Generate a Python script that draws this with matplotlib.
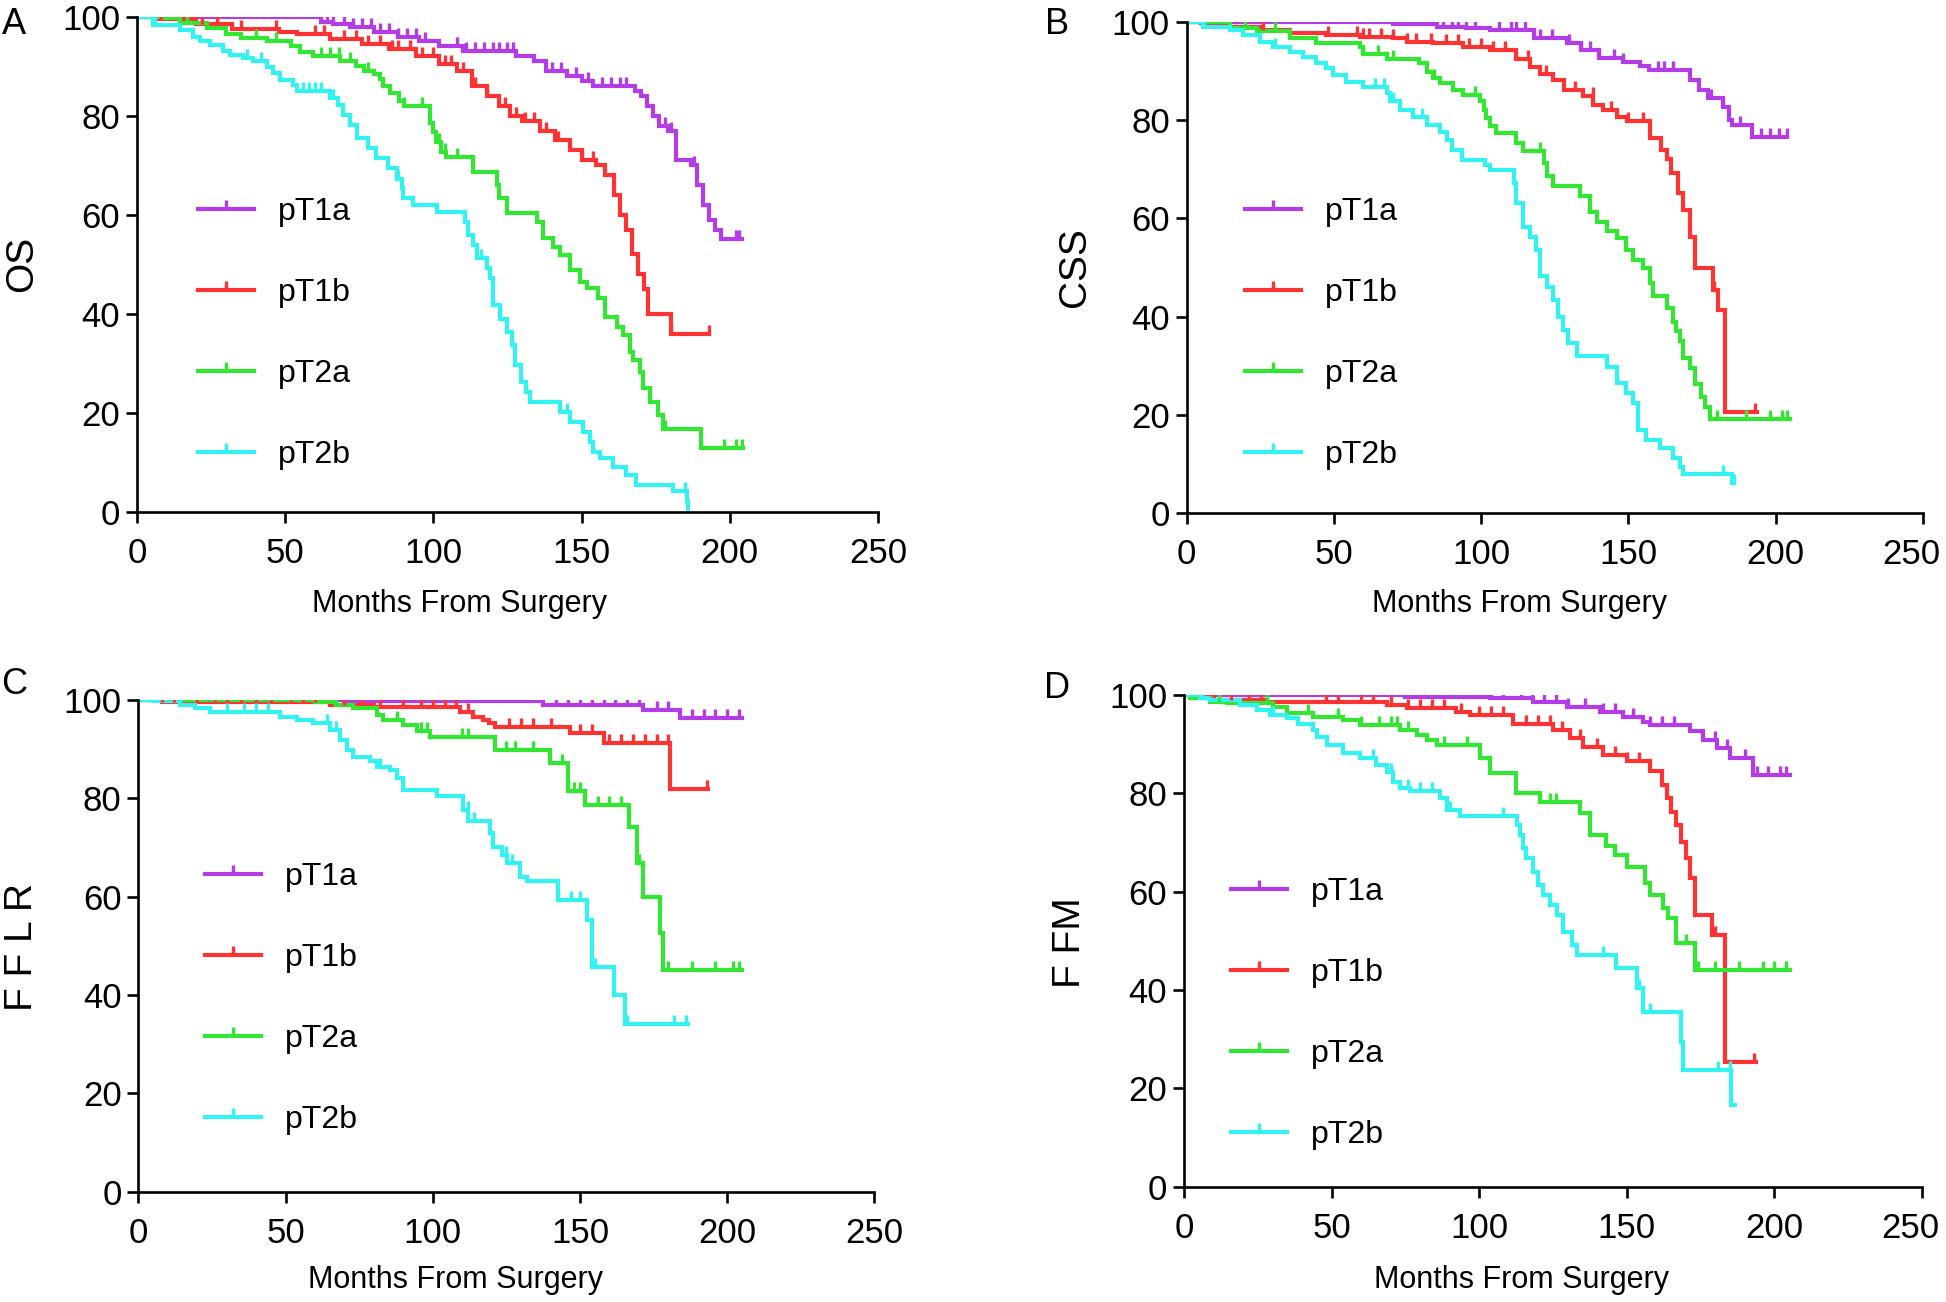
import numpy as np
import matplotlib.pyplot as plt
from matplotlib.path import Path
from matplotlib.lines import Line2D
from matplotlib.transforms import ScaledTranslation

groups = ["pT1a", "pT1b", "pT2a", "pT2b"]
colors = ["#B43CE6", "#FF3333", "#33E633", "#33F2F2"]

# ---- A: OS ----
os_1a_t = [0, 62, 66, 72, 80, 88, 95, 102, 110, 128, 134, 138, 145, 150, 154, 168, 170, 172, 174, 176, 179, 182, 187, 189, 191, 193, 195, 197, 204]
os_1a_s = [100, 99, 98.5, 98, 97, 96, 95, 94, 93, 92, 91, 89, 88, 87, 86, 85, 84, 82, 80, 78, 77, 71, 70, 66, 62, 59, 57, 55, 55]
os_1b_t = [0, 7, 20, 32, 48, 54, 65, 76, 85, 94, 102, 108, 113, 118, 122, 126, 130, 136, 141, 146, 150, 155, 158, 161, 163, 165, 167, 169, 171, 172.5, 180, 193]
os_1b_s = [100, 99.5, 98.5, 97.5, 97, 96.5, 95.5, 94.5, 93.5, 92, 90.5, 89, 86, 84, 82, 80, 79, 77, 75, 73, 71, 70, 68, 64, 60, 57, 52, 48, 45, 40, 36, 36]
os_2a_t = [0, 9, 14.5, 23.5, 30, 35, 44, 52, 55, 59.5, 68.5, 74, 76.5, 80, 82, 83, 85.5, 88.5, 90, 99, 100, 101, 102.4, 104.4, 113.4, 121.3, 122, 124.7, 134.8, 137, 140.4, 142.7, 146, 149.4, 151.7, 155.6, 157.8, 161.8, 164, 166.3, 167.4, 169.6, 170.8, 173, 175.8, 177.5, 190.4, 204.5]
os_2a_s = [100, 99.7, 98.7, 97.7, 96.6, 95.6, 95, 94, 92.9, 92, 91, 90, 89, 88.5, 87.5, 86, 84.5, 83, 82, 78.5, 76.8, 74.7, 72.7, 71.7, 68.7, 66, 63.3, 60.3, 58.6, 55.2, 53.5, 51.9, 48.9, 46.5, 45.2, 43.1, 39.4, 37.4, 35.7, 32.3, 30.7, 28.3, 24.9, 22.2, 19.5, 16.8, 12.8, 12.8]
os_2b_t = [0, 5.5, 14.5, 19, 21.2, 24.6, 29.1, 31.4, 35.9, 39.2, 43.7, 46, 48.2, 52.7, 53.9, 65.1, 67.9, 69.6, 71.8, 74.1, 78, 80.8, 84.8, 87.6, 89.3, 89.8, 93.2, 101.1, 110.6, 111.7, 113.4, 114.6, 118, 119.1, 120.2, 122.4, 124.7, 126.4, 127.5, 129.7, 131.4, 132.6, 142.7, 146, 150.5, 152.8, 153.9, 156.1, 160.6, 165.1, 168.5, 180.9, 185.4, 186]
os_2b_s = [100, 98.3, 97.3, 96, 95, 94.3, 93, 92.3, 91.6, 91, 89.9, 88.6, 87.2, 86.2, 84.9, 83.5, 82.2, 80.1, 78.1, 75.4, 73.4, 71.4, 69.4, 67.3, 65.3, 63.3, 61.9, 60.6, 58.6, 55.9, 53.9, 51.2, 49.2, 47.2, 41.7, 39, 36.4, 33.7, 29.6, 26.3, 24.2, 22.2, 20.2, 18.2, 16.2, 14.1, 12.1, 10.8, 9.1, 7.4, 5.4, 4.1, 2.1, 0.4]
os_1a_c = [8, 33, 40, 42, 55, 57, 62, 64, 66, 70, 73, 76, 79, 82, 85, 88, 91, 94, 97, 108, 111, 114, 117, 120, 122, 125, 127, 140, 143, 148, 152, 157, 160, 163, 165, 178, 180, 188, 202, 203]
os_1b_c = [8, 16, 22, 27, 35, 47, 60, 63, 70, 74, 78, 82, 86, 88, 92, 96, 100, 104, 106, 110, 114, 118, 124, 128, 131, 134, 138, 142, 146, 150, 154, 180, 193]
os_2a_c = [10, 17, 40, 47, 62, 65, 68, 72, 78, 90, 96, 102, 104, 108, 178, 198, 202, 204]
os_2b_c = [6, 37, 42, 56, 58, 60, 62, 66, 72, 88, 116, 145, 185]

# ---- B: CSS ----
css_1a_t = [0, 70, 85, 95, 103, 118, 129, 134, 140, 148, 154, 157, 170.8, 174, 177, 182, 184, 185, 192, 204]
css_1a_s = [100, 99.5, 99, 98.7, 98.3, 96.6, 95.6, 94.3, 92.6, 91.8, 91, 90.2, 88.1, 86.1, 84.4, 82.7, 80, 79, 76.6, 76.6]
css_1b_t = [0, 5, 14.7, 26, 35, 47.5, 58.8, 70, 74.7, 83.7, 93.9, 103, 112, 116.7, 120, 124.5, 128, 134.5, 138.1, 141.5, 146, 149.4, 157.3, 161, 163, 164.6, 167, 168.6, 171, 172.6, 178.8, 180.5, 182.8, 193.6]
css_1b_s = [100, 99.7, 99, 98.3, 97.6, 97.3, 96.9, 96.6, 95.9, 95.6, 94.9, 94.2, 92.5, 90.8, 89.4, 88.1, 86.1, 84.8, 83.1, 82, 80.7, 79.7, 76.3, 74, 72, 69.2, 65.1, 61.7, 56.3, 49.8, 45.4, 41.3, 20.7, 20.7]
css_2a_t = [0, 14.7, 23.8, 35, 44, 58.8, 60, 68, 79, 81.5, 83.7, 86, 90.5, 94, 99.5, 101, 101.8, 103, 105.2, 112, 114.3, 121.2, 122.2, 124.5, 133.5, 136.9, 139.2, 142.6, 146, 149.3, 151.6, 155, 157.2, 158.4, 163, 165.2, 166.3, 167.5, 168.6, 170.8, 172.5, 174.8, 175.9, 177.6, 204.8]
css_2a_s = [100, 98.8, 98.2, 96.6, 95.6, 94.9, 93.5, 92.5, 91.5, 89.8, 88.5, 87.5, 86.1, 85.1, 83.8, 82.1, 80.4, 78.7, 77.3, 75.3, 73.6, 71.2, 68.6, 66.5, 64.5, 61.2, 59.2, 57.5, 55.9, 53.6, 51.6, 49.9, 46.9, 44.3, 41.7, 39, 37, 35, 31.6, 29.6, 26.3, 23.6, 21.6, 19.2, 19.2]
css_2b_t = [0, 5.5, 14.7, 19.2, 24.9, 29.4, 35, 39.6, 44.1, 47.5, 49.8, 54.3, 60, 67.9, 69, 72.4, 77, 81.5, 86, 88.3, 90, 93.4, 101.2, 103, 111, 112, 114.3, 116.5, 118.8, 119.9, 122.2, 124.5, 126.2, 127.8, 129.5, 132.4, 142.6, 146, 149.3, 151.6, 153.3, 156.1, 160.7, 165.2, 167.5, 168.6, 185, 186]
css_2b_s = [100, 99, 98.3, 97.3, 95.9, 94.9, 93.9, 92.9, 91.5, 90.5, 89.2, 87.8, 86.8, 85.5, 83.8, 82, 80.7, 79, 77.6, 76, 73.9, 71.9, 70.9, 69.9, 67.1, 63.1, 58.3, 56.3, 53.6, 48.2, 46.1, 43.4, 40, 37.3, 34.6, 31.9, 29.8, 26.5, 24.4, 22.4, 17, 15, 13.3, 11.2, 9.5, 7.9, 6.2, 6.2]
css_1a_c = [6, 33, 40, 42, 55, 58, 62, 64, 66, 70, 73, 76, 80, 84, 87, 90, 92, 95, 98, 106, 110, 112, 115, 118, 120, 124, 130, 134, 137, 140, 145, 148, 160, 162, 165, 178, 182, 188, 195, 198, 201, 204]
css_1b_c = [26, 48, 58, 60, 62, 66, 70, 75, 78, 83, 88, 92, 96, 100, 104, 108, 112, 116, 122, 132, 138, 144, 150, 155, 179, 193]
css_2a_c = [20, 30, 60, 65, 70, 84, 98, 120, 180, 190, 198, 202, 204]
css_2b_c = [6, 30, 64, 67, 70, 80, 182, 186]

# ---- C: FFLR ----
fflr_1a_t = [0, 70, 137.5, 171.4, 183.9, 204.9]
fflr_1a_s = [100, 99.7, 99, 98, 96.3, 96.3]
fflr_1b_t = [0, 8, 65, 80, 109.3, 113.8, 117, 119, 121.2, 146.6, 158, 180.6, 193.6]
fflr_1b_s = [100, 99.5, 99, 98.6, 97.6, 96.6, 95.9, 95.3, 94.6, 93.2, 91.2, 82, 82]
fflr_2a_t = [0, 60, 67, 73, 81, 83, 90, 94.5, 99, 121.2, 139.9, 146.1, 151.7, 166.5, 169.3, 171.5, 177.2, 178.3, 204.9]
fflr_2a_s = [100, 99.5, 99, 98.3, 97, 96, 95, 93.6, 92.5, 89.8, 87.1, 81.4, 78.6, 74.2, 66.8, 60, 52.6, 45.1, 45.1]
fflr_2b_t = [0, 5, 14.2, 19.3, 24.3, 48.1, 53.8, 59.4, 65, 68.5, 70.8, 73, 78.7, 81, 85.5, 87.7, 90, 101.3, 110.4, 112.1, 119.5, 120.6, 123.4, 125.1, 129.7, 131.9, 142.7, 152.3, 154, 161.4, 165.3, 186.8]
fflr_2b_s = [100, 99.7, 99, 98.3, 97.6, 96.6, 95.9, 95.3, 93.9, 91.9, 89.9, 88.5, 87.5, 86.4, 85.8, 84.1, 81.7, 80.4, 77.6, 75.3, 72.9, 70.2, 68.5, 66.8, 64.1, 63.1, 59.4, 55.3, 45.8, 40, 34.2, 34.2]
fflr_1a_c = [24, 30, 40, 43, 56, 58, 62, 64, 68, 72, 74, 76, 80, 82, 86, 90, 94, 98, 100, 104, 108, 112, 116, 120, 124, 128, 132, 136, 142, 146, 150, 154, 158, 162, 166, 170, 176, 180, 188, 192, 196, 200, 204]
fflr_1b_c = [8, 12, 20, 26, 30, 35, 40, 45, 52, 56, 60, 64, 70, 76, 82, 90, 96, 100, 104, 108, 112, 126, 130, 134, 140, 150, 154, 160, 164, 168, 172, 176, 180, 193]
fflr_2a_c = [10, 17, 26, 34, 44, 52, 58, 62, 64, 88, 96, 98, 110, 112, 125, 128, 134, 144, 148, 150, 156, 160, 164, 170, 180, 188, 196, 202, 204]
fflr_2b_c = [6, 30, 36, 40, 44, 64, 67, 82, 90, 112, 114, 125, 127, 147, 150, 155, 166, 182, 186]

# ---- D: FFM ----
ffm_1a_t = [0, 75, 103.6, 118.3, 129.6, 140.9, 148.8, 155.5, 157.8, 171.4, 175.9, 180.4, 185, 192.9, 205.2]
ffm_1a_s = [100, 99.6, 99.3, 98.6, 97.6, 96.6, 95.6, 94.6, 93.9, 92.6, 90.8, 89.2, 87.1, 83.7, 83.7]
ffm_1b_t = [0, 3, 10, 27, 68.6, 75.4, 92.3, 96.8, 111.5, 125.1, 130.7, 135.2, 142, 149.9, 157.8, 161.8, 163.5, 165.1, 166.8, 168.5, 170.2, 171.4, 173, 178.7, 183.2, 193.9]
ffm_1b_s = [100, 99.7, 99, 98.6, 98, 97.3, 96.6, 95.9, 94.2, 92.9, 91.2, 89.5, 87.8, 86.5, 84.5, 81.7, 79, 76.3, 73.6, 70.2, 66.8, 62.7, 55.3, 51.2, 25.4, 25.4]
ffm_2a_t = [0, 2, 8.8, 14.4, 30.3, 34.8, 43.8, 54, 59.6, 73.1, 78.8, 82.2, 85.6, 100.3, 103.6, 112.6, 120.5, 134, 137.5, 143.1, 145.9, 149.9, 156.1, 157.8, 162.3, 164, 166.8, 173, 205.2]
ffm_2a_s = [100, 99.3, 98.6, 98.3, 97.6, 96.3, 95.6, 94.9, 93.9, 92.9, 91.9, 90.8, 89.8, 87.1, 84.1, 80, 78.3, 76, 71.5, 69.2, 67.5, 65.1, 61.7, 59.4, 56.6, 54.6, 49.5, 44.1, 44.1]
ffm_2b_t = [0, 5.4, 8.8, 19, 24.6, 29.1, 34.8, 38.7, 43.8, 44.9, 48.3, 54, 59.6, 65.2, 68.6, 70.9, 73.1, 76.5, 86.7, 89, 93.5, 112.7, 113.8, 114.9, 116, 118.3, 120, 121.7, 124, 126.2, 128.5, 131.3, 133, 146.5, 153.3, 155.5, 168.5, 169.1, 185.4, 186.5]
ffm_2b_s = [100, 99.3, 99, 98, 97, 95.9, 95.3, 94.2, 92.9, 91.5, 89.8, 88.2, 87.1, 85.8, 84.4, 82.4, 81.1, 80.4, 79, 76.6, 75.3, 73.6, 71.5, 68.9, 66.8, 64.1, 61.4, 59.4, 57.3, 55.3, 51.9, 49.2, 47.2, 44.5, 40.4, 35.6, 29.5, 23.7, 16.6, 16.6]
ffm_1a_c = [28, 35, 40, 52, 56, 60, 62, 64, 66, 70, 72, 74, 76, 78, 80, 84, 88, 92, 96, 100, 104, 108, 114, 118, 122, 126, 130, 136, 142, 146, 152, 158, 162, 166, 180, 184, 190, 194, 198, 202, 204]
ffm_1b_c = [9, 16, 22, 26, 48, 52, 60, 64, 70, 76, 80, 84, 88, 94, 100, 104, 108, 116, 120, 124, 128, 134, 140, 146, 150, 154, 180, 193]
ffm_2a_c = [12, 28, 42, 52, 60, 66, 70, 72, 76, 88, 96, 124, 126, 170, 174, 180, 188, 196, 200, 204]
ffm_2b_c = [6, 30, 64, 70, 76, 80, 84, 90, 108, 142, 154, 158, 181, 185]

x_ticks = [0, 50, 100, 150, 200, 250]
y_ticks = [0, 20, 40, 60, 80, 100]

panels = [
    ("A", "OS", [(os_1a_t, os_1a_s, os_1a_c), (os_1b_t, os_1b_s, os_1b_c),
                 (os_2a_t, os_2a_s, os_2a_c), (os_2b_t, os_2b_s, os_2b_c)]),
    ("B", "CSS", [(css_1a_t, css_1a_s, css_1a_c), (css_1b_t, css_1b_s, css_1b_c),
                  (css_2a_t, css_2a_s, css_2a_c), (css_2b_t, css_2b_s, css_2b_c)]),
    ("C", "F F L R", [(fflr_1a_t, fflr_1a_s, fflr_1a_c), (fflr_1b_t, fflr_1b_s, fflr_1b_c),
                      (fflr_2a_t, fflr_2a_s, fflr_2a_c), (fflr_2b_t, fflr_2b_s, fflr_2b_c)]),
    ("D", "F FM", [(ffm_1a_t, ffm_1a_s, ffm_1a_c), (ffm_1b_t, ffm_1b_s, ffm_1b_c),
                   (ffm_2a_t, ffm_2a_s, ffm_2a_c), (ffm_2b_t, ffm_2b_s, ffm_2b_c)]),
]

# layout in pixels (figure is 1946 x 1302 at dpi 100)
W, H = 1946, 1302
axes_px = [(137, 16.7, 878, 511.7), (1186.5, 21.7, 1923, 513.3),
           (138.3, 700, 874.4, 1191.7), (1184, 695, 1922, 1186.7)]
letter_px = [(14, 24), (1057, 24), (14, 685), (1057, 688)]
ylabel_px = [(22, 264), (1075, 267), (22, 947), (1070, 943)]
xlabel_px = [(459, 604), (1520, 604), (455, 1280), (1521, 1280)]
legend_px = [(198, 197), (1245, 197), (205, 862), (1231, 877)]

text_font = ["Liberation Sans", "DejaVu Sans"]

censor = Path([(0, 0), (0, 1)], [Path.MOVETO, Path.LINETO])

fig = plt.figure(figsize=(W / 100, H / 100), dpi=100)

for i, (letter, ylab, curves) in enumerate(panels):
    x0, y0, x1, y1 = axes_px[i]
    ax = fig.add_axes([x0 / W, 1 - y1 / H, (x1 - x0) / W, (y1 - y0) / H])
    handles = []
    for (t, s, c), col, g in zip(curves, colors, groups):
        t = np.array(t, dtype=float)
        s = np.array(s, dtype=float)
        ax.step(t, s, where="post", color=col, lw=3, solid_joinstyle="miter", zorder=2)
        c = np.array(c, dtype=float)
        cy = s[np.searchsorted(t, c, side="right") - 1]
        ax.plot(c, cy, ls="none", marker=censor, ms=13, mew=2.4, color=col, zorder=3)
        handles.append(Line2D([], [], color=col, lw=3, marker=censor, ms=13, mew=2.4))
    ax.set_xlim(0, 250)
    ax.set_ylim(0, 100)
    ax.set_xticks(x_ticks)
    ax.set_yticks(y_ticks)
    for sp in ["top", "right"]:
        ax.spines[sp].set_visible(False)
    for sp in ["left", "bottom"]:
        ax.spines[sp].set_linewidth(1.9)
    ax.tick_params(direction="out", length=8, width=1.9, labelsize=25)
    ax.tick_params(axis="x", pad=10)
    ax.tick_params(axis="y", pad=4)
    for lab in ax.get_xticklabels() + ax.get_yticklabels():
        lab.set_family(text_font)
    if i in (1, 3):
        # keep the last label inside the figure edge
        last = ax.get_xticklabels()[-1]
        last.set_transform(last.get_transform() + ScaledTranslation(-0.12, 0, fig.dpi_scale_trans))
    lx, ly = legend_px[i]
    ax.legend(handles, groups, loc="upper left", bbox_to_anchor=(lx / W, 1 - ly / H),
              bbox_transform=fig.transFigure, frameon=False, prop={"family": text_font, "size": 23},
              handlelength=1.75, handletextpad=0.75, labelspacing=1.6, borderpad=0,
              borderaxespad=0, numpoints=1)
    px, py = letter_px[i]
    fig.text(px / W, 1 - py / H, letter, ha="center", va="center", fontsize=26, family=text_font)
    px, py = ylabel_px[i]
    fig.text(px / W, 1 - py / H, ylab, ha="center", va="center", rotation=90, fontsize=28, family=text_font)
    px, py = xlabel_px[i]
    fig.text(px / W, 1 - py / H, "Months From Surgery", ha="center", va="center", fontsize=22, family=text_font)

fig.savefig("out.png", dpi=100)
